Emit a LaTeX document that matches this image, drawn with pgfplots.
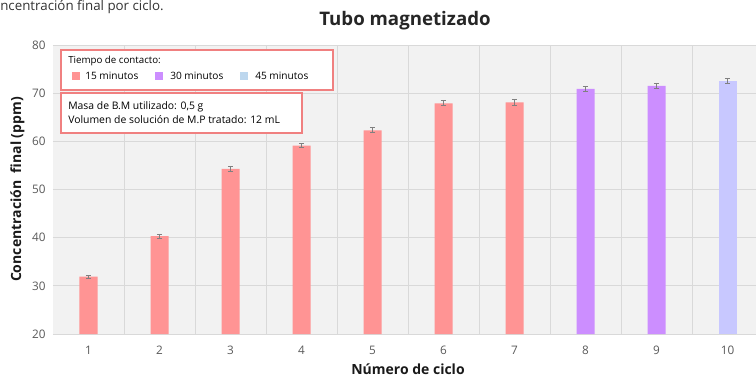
\documentclass[border=0pt]{standalone}
\usepackage{pgfplots}
\pgfplotsset{compat=1.18}
\usepackage{fontspec}
\setmainfont{Open Sans}

\definecolor{rosa}{HTML}{FF9494}
\definecolor{lila}{HTML}{CC8EFF}
\definecolor{lavanda}{HTML}{C8C8FF}
\definecolor{celeste}{HTML}{BDD7EE}
\definecolor{borde}{HTML}{F08080}
\definecolor{fondo}{HTML}{F2F2F2}
\definecolor{rejilla}{HTML}{D9D9D9}
\definecolor{texto}{HTML}{595959}

\begin{document}
\begin{tikzpicture}
\useasboundingbox (-39.75pt,-31.5pt) rectangle (527.25pt,250.5pt);

\begin{axis}[
  at={(0,0)}, anchor=south west,
  width=532.5pt, height=216.75pt, scale only axis,
  xmin=0.5, xmax=10.5, ymin=20, ymax=80,
  xtick={1,...,10}, ytick={20,30,...,80},
  minor xtick={1.5,2.5,...,9.5},
  xmajorgrids=false, xminorgrids=true, ymajorgrids=true,
  major grid style={rejilla, line width=0.6pt},
  minor grid style={rejilla, line width=0.6pt},
  axis background/.style={fill=fondo},
  axis line style={draw=none},
  major tick style={draw=none}, minor tick style={draw=none},
  tick label style={font=\fontsize{8.8}{10}\selectfont, text=texto},
  yticklabel style={xshift=-2pt},
  xticklabel style={yshift=-1pt},
  /pgf/number format/assume math mode=true,
  xlabel={\textbf{Número de ciclo}},
  ylabel={\textbf{Concentración\ \ final (ppm)}},
  label style={font=\fontsize{10.5}{12}\selectfont, text=black!90},
  xlabel style={yshift=0pt},
  ylabel style={yshift=-1pt},
  ybar, bar width=13.5pt, bar shift=0pt,
  error bars/y dir=both, error bars/y explicit,
  error bars/error bar style={gray, line width=0.6pt},
  error bars/error mark options={rotate=90, mark size=2pt, gray, line width=0.6pt},
]
% 15 minutos
\addplot[fill=rosa, draw=none] coordinates {
  (1,31.9) +- (0,0.35)
  (2,40.3) +- (0,0.35)
  (3,54.3) +- (0,0.5)
  (4,59.1) +- (0,0.4)
  (5,62.3) +- (0,0.5)
  (6,67.9) +- (0,0.5)
  (7,68.1) +- (0,0.55)
};
% 30 minutos
\addplot[fill=lila, draw=none] coordinates {
  (8,70.9) +- (0,0.55)
  (9,71.5) +- (0,0.55)
};
% 45 minutos
\addplot[fill=lavanda, draw=none] coordinates {
  (10,72.6) +- (0,0.55)
};
\end{axis}

% titulo y texto de arriba
\node[anchor=base, font=\fontsize{14}{16}\selectfont\bfseries, text=black!85] at (264pt,231.75pt) {Tubo magnetizado};
\node[anchor=north west, inner sep=0pt, font=\fontsize{10}{12}\selectfont, text=black!80] at (-39.75pt,250.5pt) {ncentración final por ciclo.};

% cuadro de leyenda
\draw[borde, line width=1.1pt, fill=white] (6pt,183pt) rectangle (210pt,213pt);
\node[anchor=west, inner sep=0pt, font=\fontsize{7.3}{9}\selectfont] at (11.25pt,204.75pt) {Tiempo de contacto:};
\fill[rosa] (14.25pt,190.5pt) rectangle (20.25pt,196.5pt);
\node[anchor=west, inner sep=0pt, font=\fontsize{7.6}{9}\selectfont] at (24pt,193.5pt) {15 minutos};
\fill[lila] (76.5pt,190.5pt) rectangle (82.5pt,196.5pt);
\node[anchor=west, inner sep=0pt, font=\fontsize{7.6}{9}\selectfont] at (87.75pt,193.5pt) {30 minutos};
\fill[celeste] (140.25pt,190.5pt) rectangle (146.25pt,196.5pt);
\node[anchor=west, inner sep=0pt, font=\fontsize{7.6}{9}\selectfont] at (151.5pt,193.5pt) {45 minutos};

% cuadro de condiciones
\draw[borde, line width=1.1pt, fill=white] (6pt,150.75pt) rectangle (186.75pt,180.75pt);
\node[anchor=west, inner sep=0pt, font=\fontsize{7.8}{9}\selectfont] at (11.25pt,170.25pt) {Masa de B.M utilizado: 0,5 g};
\node[anchor=west, inner sep=0pt, font=\fontsize{7.8}{9}\selectfont] at (11.25pt,160.5pt) {Volumen de solución de M.P tratado: 12 mL};
\end{tikzpicture}
\end{document}
